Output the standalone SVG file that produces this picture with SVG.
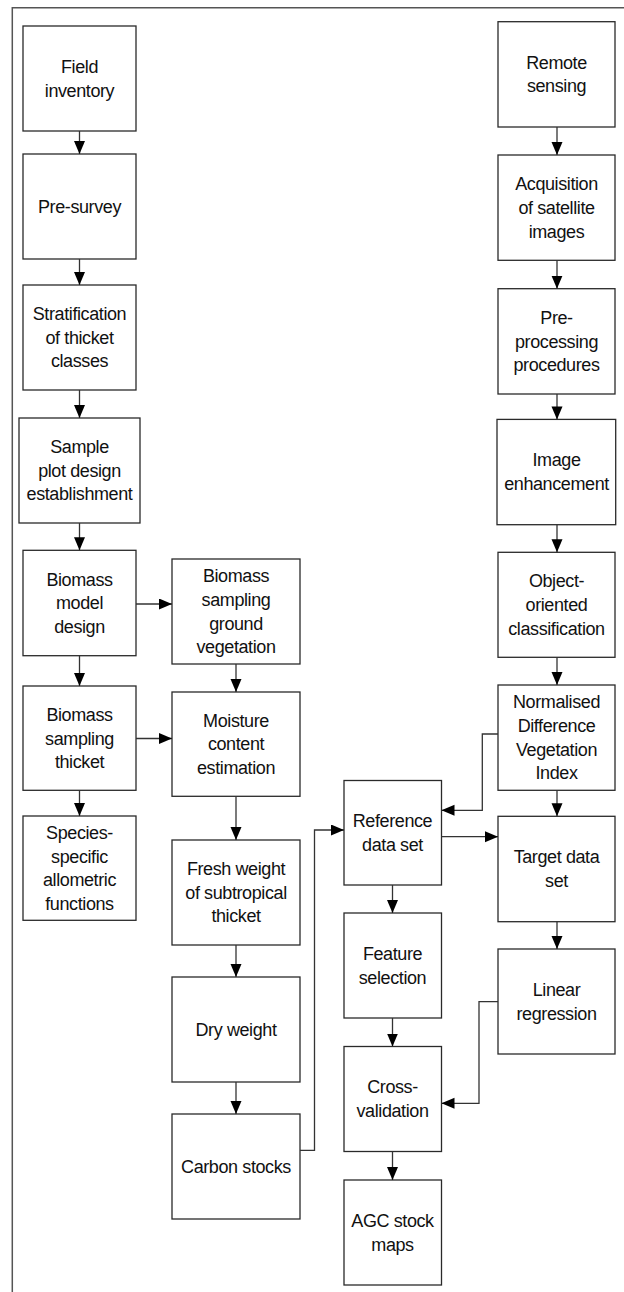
<svg xmlns="http://www.w3.org/2000/svg" width="624" height="1292" viewBox="0 0 624 1292">
<defs>
<style>
.box{fill:#fff;stroke:#2a2a2a;stroke-width:1.3}
.t{font-family:"Liberation Sans",Arial,sans-serif;font-size:18px;letter-spacing:-0.4px;fill:#111;text-anchor:middle}
.c{fill:none;stroke:#333;stroke-width:1.3}
.frame{fill:none;stroke:#555;stroke-width:1.5}
</style>
<marker id="ah" markerUnits="userSpaceOnUse" markerWidth="14" markerHeight="12" refX="13" refY="5.5" orient="auto">
<path d="M0,0 L13,5.5 L0,11 Z" fill="#000"/>
</marker>
</defs>
<rect width="624" height="1292" fill="#fff"/>
<path class="frame" d="M624,7.7 L12.3,7.7 L12.3,1292"/>

<g id="field"><rect class="box" x="23" y="26" width="113" height="105"/><text class="t" x="79.5" y="72.9">Field</text><text class="t" x="79.5" y="96.6">inventory</text></g>
<g id="presurvey"><rect class="box" x="23" y="154" width="113" height="105"/><text class="t" x="79.5" y="212.9">Pre-survey</text></g>
<g id="stratification"><rect class="box" x="23" y="285" width="113" height="105"/><text class="t" x="79.5" y="320">Stratification</text><text class="t" x="79.5" y="343.7">of thicket</text><text class="t" x="79.5" y="367.4">classes</text></g>
<g id="sampleplot"><rect class="box" x="19" y="418" width="121" height="105"/><text class="t" x="79.5" y="453">Sample</text><text class="t" x="79.5" y="476.7">plot design</text><text class="t" x="79.5" y="500.4">establishment</text></g>
<g id="modeldesign"><rect class="box" x="23" y="550.3" width="113" height="105.4"/><text class="t" x="79.5" y="585.5">Biomass</text><text class="t" x="79.5" y="609.2">model</text><text class="t" x="79.5" y="632.9">design</text></g>
<g id="samplingthicket"><rect class="box" x="23" y="686" width="113" height="104.3"/><text class="t" x="79.5" y="720.8">Biomass</text><text class="t" x="79.5" y="744.5">sampling</text><text class="t" x="79.5" y="768.2">thicket</text></g>
<g id="species"><rect class="box" x="23" y="816" width="113" height="104.3"/><text class="t" x="79.5" y="838.9">Species-</text><text class="t" x="79.5" y="862.6">specific</text><text class="t" x="79.5" y="886.3">allometric</text><text class="t" x="79.5" y="910">functions</text></g>

<g id="groundveg"><rect class="box" x="172" y="559" width="128" height="105"/><text class="t" x="236" y="582.2">Biomass</text><text class="t" x="236" y="605.9">sampling</text><text class="t" x="236" y="629.6">ground</text><text class="t" x="236" y="653.3">vegetation</text></g>
<g id="moisture"><rect class="box" x="172" y="692" width="128" height="104.3"/><text class="t" x="236" y="726.7">Moisture</text><text class="t" x="236" y="750.4">content</text><text class="t" x="236" y="774.1">estimation</text></g>
<g id="fresh"><rect class="box" x="172" y="840" width="128" height="105"/><text class="t" x="236" y="875">Fresh weight</text><text class="t" x="236" y="898.7">of subtropical</text><text class="t" x="236" y="922.4">thicket</text></g>
<g id="dry"><rect class="box" x="172" y="977" width="128" height="105"/><text class="t" x="236" y="1035.7">Dry weight</text></g>
<g id="carbon"><rect class="box" x="172" y="1114" width="128" height="105"/><text class="t" x="236" y="1172.7">Carbon stocks</text></g>

<g id="reference"><rect class="box" x="344" y="780.5" width="97.5" height="104.5"/><text class="t" x="392.5" y="827">Reference</text><text class="t" x="392.5" y="850.7">data set</text></g>
<g id="feature"><rect class="box" x="344" y="913" width="97.5" height="105"/><text class="t" x="392.5" y="959.8">Feature</text><text class="t" x="392.5" y="983.5">selection</text></g>
<g id="crossval"><rect class="box" x="344" y="1046.5" width="97.5" height="105"/><text class="t" x="392.5" y="1093.3">Cross-</text><text class="t" x="392.5" y="1117">validation</text></g>
<g id="agc"><rect class="box" x="344" y="1180" width="97.5" height="105"/><text class="t" x="392.5" y="1226.8">AGC stock</text><text class="t" x="392.5" y="1250.5">maps</text></g>

<g id="remote"><rect class="box" x="498" y="21.7" width="117" height="105.3"/><text class="t" x="556.5" y="68.6">Remote</text><text class="t" x="556.5" y="92.3">sensing</text></g>
<g id="acquisition"><rect class="box" x="498" y="155" width="117" height="105.3"/><text class="t" x="556.5" y="190.1">Acquisition</text><text class="t" x="556.5" y="213.8">of satellite</text><text class="t" x="556.5" y="237.5">images</text></g>
<g id="preprocessing"><rect class="box" x="498" y="288.7" width="117" height="105.3"/><text class="t" x="556.5" y="323.8">Pre-</text><text class="t" x="556.5" y="347.5">processing</text><text class="t" x="556.5" y="371.2">procedures</text></g>
<g id="enhancement"><rect class="box" x="497" y="419.4" width="118.7" height="105.3"/><text class="t" x="556.5" y="466.3">Image</text><text class="t" x="556.5" y="490">enhancement</text></g>
<g id="objectoriented"><rect class="box" x="498" y="552.3" width="117" height="105"/><text class="t" x="556.5" y="587.3">Object-</text><text class="t" x="556.5" y="611">oriented</text><text class="t" x="556.5" y="634.7">classification</text></g>
<g id="ndvi"><rect class="box" x="498" y="685" width="117" height="105.3"/><text class="t" x="556.5" y="708.3">Normalised</text><text class="t" x="556.5" y="732">Difference</text><text class="t" x="556.5" y="755.7">Vegetation</text><text class="t" x="556.5" y="779.4">Index</text></g>
<g id="target"><rect class="box" x="498" y="816.3" width="117" height="105.4"/><text class="t" x="556.5" y="863.3">Target data</text><text class="t" x="556.5" y="887">set</text></g>
<g id="linear"><rect class="box" x="498" y="949" width="117" height="105"/><text class="t" x="556.5" y="995.8">Linear</text><text class="t" x="556.5" y="1019.5">regression</text></g>

<g id="connectors">
<path class="c" marker-end="url(#ah)" d="M79.5,131 V154"/>
<path class="c" marker-end="url(#ah)" d="M79.5,259 V285"/>
<path class="c" marker-end="url(#ah)" d="M79.5,390 V418"/>
<path class="c" marker-end="url(#ah)" d="M79.5,523 V550.3"/>
<path class="c" marker-end="url(#ah)" d="M79.5,655.7 V686"/>
<path class="c" marker-end="url(#ah)" d="M79.5,790.3 V816"/>
<path class="c" marker-end="url(#ah)" d="M136,604 H172"/>
<path class="c" marker-end="url(#ah)" d="M136,738.5 H172"/>
<path class="c" marker-end="url(#ah)" d="M236,664 V692"/>
<path class="c" marker-end="url(#ah)" d="M236,796.3 V840"/>
<path class="c" marker-end="url(#ah)" d="M236,945 V977"/>
<path class="c" marker-end="url(#ah)" d="M236,1082 V1114"/>
<path class="c" marker-end="url(#ah)" d="M300,1150.3 H314.5 V830 H344"/>
<path class="c" marker-end="url(#ah)" d="M392.5,885 V913"/>
<path class="c" marker-end="url(#ah)" d="M392.5,1018 V1046.5"/>
<path class="c" marker-end="url(#ah)" d="M392.5,1151.5 V1180"/>
<path class="c" marker-end="url(#ah)" d="M557,127 V155"/>
<path class="c" marker-end="url(#ah)" d="M557,260.3 V288.7"/>
<path class="c" marker-end="url(#ah)" d="M557,394 V419.4"/>
<path class="c" marker-end="url(#ah)" d="M557,524.7 V552.3"/>
<path class="c" marker-end="url(#ah)" d="M557,657.3 V685"/>
<path class="c" marker-end="url(#ah)" d="M557,790.3 V816.3"/>
<path class="c" marker-end="url(#ah)" d="M557,921.7 V949"/>
<path class="c" marker-end="url(#ah)" d="M498,734 H482.3 V810.3 H441.5"/>
<path class="c" marker-end="url(#ah)" d="M441.5,836.7 H498"/>
<path class="c" marker-end="url(#ah)" d="M498,1001.7 H479 V1103.3 H441.5"/>
</g>
</svg>
